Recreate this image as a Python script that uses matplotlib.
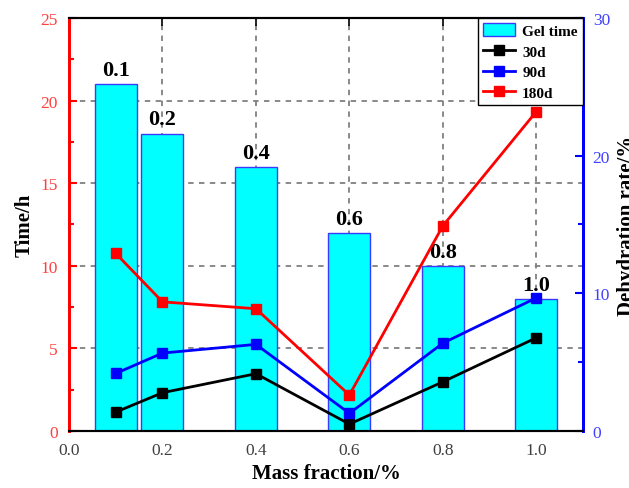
import matplotlib.pyplot as plt
from matplotlib.ticker import MultipleLocator

# mass fraction (%) and gel time (h)
mass = [0.1, 0.2, 0.4, 0.6, 0.8, 1.0]
gel_time = [21, 18, 16, 12, 10, 8]

# dehydration rate (%) after curing
rate_30d = [1.37, 2.78, 4.16, 0.5, 3.57, 6.77]
rate_90d = [4.18, 5.66, 6.29, 1.28, 6.38, 9.67]
rate_180d = [12.9, 9.38, 8.88, 2.61, 14.9, 23.2]

serif = 'Liberation Serif'
bold = {'family': serif, 'weight': 'bold', 'size': 15}

fig = plt.figure(figsize=(6.29, 4.89), dpi=100)
ax = fig.add_axes([0.1097, 0.1166, 0.8172, 0.8446])
ax2 = ax.twinx()

bars = ax.bar(mass, gel_time, width=0.09, color='#00ffff', edgecolor='#3a3aff',
              linewidth=1.0, label='Gel time', zorder=2)
for x, h in zip(mass, gel_time):
    ax.text(x, h + 0.25, f'{x:.1f}', ha='center', va='bottom',
            fontdict={**bold, 'size': 16})

ax.set_xlim(0, 1.1)
ax.set_ylim(0, 25)
ax.xaxis.set_major_locator(MultipleLocator(0.2))
ax.yaxis.set_major_locator(MultipleLocator(5))
ax.yaxis.set_minor_locator(MultipleLocator(2.5))
ax.set_axisbelow(True)
ax.grid(True, color='#808080', linestyle=(0, (3, 3)), linewidth=1.3)

l1, = ax2.plot(mass, rate_30d, color='black', lw=2, marker='s', ms=6.5, label='30d')
l2, = ax2.plot(mass, rate_90d, color='#0000ff', lw=2, marker='s', ms=6.5, label='90d')
l3, = ax2.plot(mass, rate_180d, color='#ff0000', lw=2, marker='s', ms=6.5, label='180d')
ax2.set_ylim(0, 30)
ax2.yaxis.set_major_locator(MultipleLocator(10))
ax2.yaxis.set_minor_locator(MultipleLocator(5))

# spines
for a in (ax, ax2):
    a.spines['top'].set_color('black')
    a.spines['bottom'].set_color('black')
    a.spines['top'].set_linewidth(1.5)
    a.spines['bottom'].set_linewidth(1.5)
    a.spines['left'].set_color('red')
    a.spines['left'].set_linewidth(2)
    a.spines['right'].set_color('blue')
    a.spines['right'].set_linewidth(2)

ax.tick_params(axis='x', direction='in', length=6, width=1.2, pad=8, top=True,
               labelsize=12.5, labelcolor='#404040')
ax.tick_params(axis='y', which='major', direction='in', length=6, width=1.5,
               color='red', pad=8, labelsize=12.5, labelcolor='#ff4040')
ax.tick_params(axis='y', which='minor', direction='in', length=3.5, width=1.5, color='red')
ax2.tick_params(axis='y', which='major', direction='in', length=6, width=1.5,
                color='blue', pad=7, labelsize=12.5, labelcolor='#4040ff')
ax2.tick_params(axis='y', which='minor', direction='in', length=3.5, width=1.5, color='blue')
for lab in ax.get_xticklabels() + ax.get_yticklabels() + ax2.get_yticklabels():
    lab.set_family(serif)

ax.set_xlabel('Mass fraction/%', fontdict=bold)
ax.set_ylabel('Time/h', fontdict=bold)
ax2.set_ylabel('Dehydration rate/%', fontdict=bold)
ax.xaxis.set_label_coords(0.5, -0.078)
ax.yaxis.set_label_coords(-0.066, 0.5)
ax2.yaxis.set_label_coords(1.066, 0.5)

leg = ax2.legend([bars, l1, l2, l3], ['Gel time', '30d', '90d', '180d'],
                 loc='upper right', borderaxespad=0, fancybox=False,
                 edgecolor='black', framealpha=1, handlelength=2.1,
                 handleheight=0.9, labelspacing=0.4, handletextpad=0.45,
                 borderpad=0.35,
                 prop={'family': serif, 'weight': 'bold', 'size': 11})
leg.get_frame().set_linewidth(1.0)

fig.savefig('out.png', dpi=100)
